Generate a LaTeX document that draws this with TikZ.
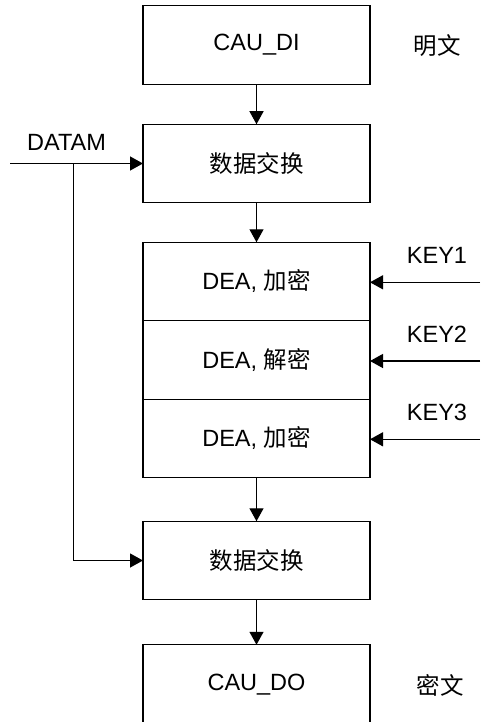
\documentclass[tikz,border=0pt]{standalone}
\usepackage{fontspec}
\setmainfont{Liberation Sans}
\newfontfamily\cjk{Noto Sans CJK SC}
\usetikzlibrary{positioning,arrows.meta}

\tikzset{
	box/.style={draw, line width=1.3pt, minimum width=227pt, minimum height=78.5pt, inner sep=0pt, outer sep=0pt, font=\fontsize{23.5}{26}\selectfont},
	lbl/.style={inner sep=0pt, font=\fontsize{23.5}{26}\selectfont},
	arr/.style={line width=1.3pt, -{Triangle[length=13pt,width=14pt]}}
}

\begin{document}
\begin{tikzpicture}[x=1pt,y=-1pt]
			\useasboundingbox (0,0) rectangle (480,722);
			% main chain
			\node[box] (di) at (256.5,45) {CAU\_DI};
			\node[box, below=40pt of di] (swap1) {\cjk 数据交换};
			\node[box, below=39.5pt of swap1] (enc1) {DEA, {\cjk 加密}};
			\node[box, below=0pt of enc1] (dec) {DEA, {\cjk 解密}};
			\node[box, below=0pt of dec] (enc2) {DEA, {\cjk 加密}};
			\node[box, below=43.5pt of enc2] (swap2) {\cjk 数据交换};
			\node[box, below=45pt of swap2, minimum height=80pt] (do) {CAU\_DO};
			% side labels
			\node[lbl] (plain) at (437,46) {\cjk 明文};
			\node[lbl] (cipher) at (440,685) {\cjk 密文};
			\node[lbl] (datam) at (66.5,142) {DATAM};
			\node[lbl] (key1) at (437,255) {KEY1};
			\node[lbl] (key2) at (437,334) {KEY2};
			\node[lbl] (key3) at (437,412.5) {KEY3};
			\coordinate (din) at (10,163.5);
			\coordinate (split) at (73.3,163.5);
			\coordinate (k1) at (480,282.3);
			\coordinate (k2) at (480,361);
			\coordinate (k3) at (480,439.3);
			% connectors
			\draw[arr] (di) -- (swap1);
			\draw[arr] (swap1) -- (enc1);
			\draw[arr] (enc2) -- (swap2);
			\draw[arr] (swap2) -- (do);
			\draw[arr] (din) -- (din -| swap1.west);
			\draw[arr] (split) |- (swap2.west);
			\draw[arr] (k1) -- (k1 -| enc1.east);
			\draw[arr] (k2) -- (k2 -| dec.east);
			\draw[arr] (k3) -- (k3 -| enc2.east);
			\end{tikzpicture}
\end{document}
